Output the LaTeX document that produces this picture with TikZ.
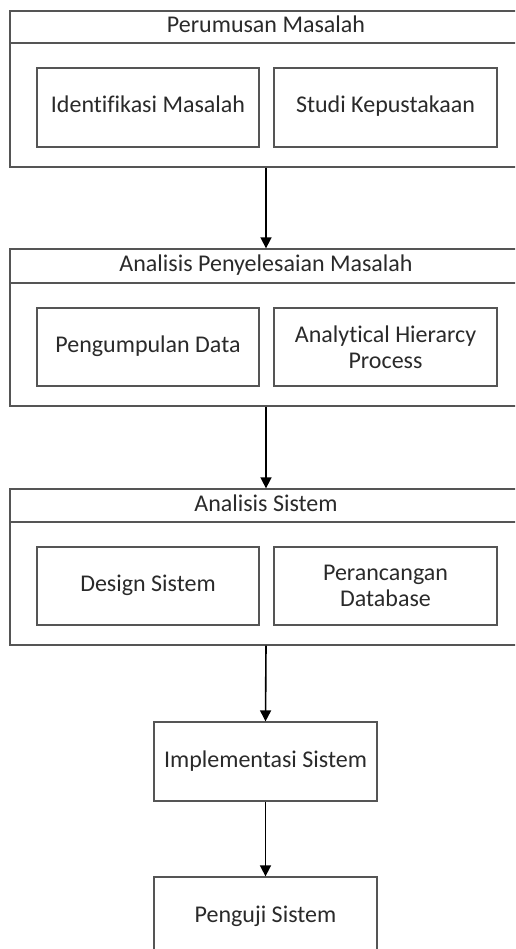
\documentclass[tikz,border=0pt]{standalone}
\usepackage{fontspec}
\setmainfont{Carlito}[Ligatures=NoCommon]
\usetikzlibrary{arrows.meta}
\definecolor{linec}{HTML}{555555}
\definecolor{textc}{HTML}{2A2A2A}
\tikzset{
  box/.style={draw=linec, line width=1.3pt, rectangle, inner sep=0pt, text=textc,
    font=\fontsize{24}{26}\selectfont, align=center},
  one/.style={text height=16pt, text depth=5pt},
  hdr/.style={text=textc, font=\fontsize{24}{26}\selectfont, inner sep=0pt, text height=16pt, text depth=5pt},
  arr/.style={draw=black, line width=1.6pt, -{Triangle[width=11pt,length=11pt]}},
  sep/.style={draw=linec, line width=1.3pt}
}
\begin{document}
\begin{tikzpicture}[x=1pt,y=-1pt]
\useasboundingbox (0,0) rectangle (515,949);
\clip (0,0) rectangle (515,949);
% group 1
\node[box, minimum width=512pt, minimum height=156pt] (g1) at (266,89) {};
\coordinate (h1) at (0,43);
\draw[sep] (g1.west |- h1) -- (g1.east |- h1);
\node[hdr] (t1) at (266,27) {Perumusan Masalah};
\node[box, one, minimum width=222pt, minimum height=79pt] (a1) at (148,107.5) {Identifikasi Masalah};
\node[box, one, minimum width=223pt, minimum height=79pt] (b1) at (385.5,107.5) {Studi Kepustakaan};
% group 2
\node[box, minimum width=512pt, minimum height=157pt] (g2) at (266,327.5) {};
\coordinate (h2) at (0,283);
\draw[sep] (g2.west |- h2) -- (g2.east |- h2);
\node[hdr] (t2) at (266,266) {Analisis Penyelesaian Masalah};
\node[box, one, minimum width=222pt, minimum height=78pt] (a2) at (148,347) {Pengumpulan Data};
\node[box, minimum width=223pt, minimum height=78pt] (b2) at (385.5,347) {Analytical Hierarcy\\Process};
% group 3
\node[box, minimum width=512pt, minimum height=156pt] (g3) at (266,567) {};
\coordinate (h3) at (0,522);
\draw[sep] (g3.west |- h3) -- (g3.east |- h3);
\node[hdr] (t3) at (266,505.5) {Analisis Sistem};
\node[box, one, minimum width=222pt, minimum height=78pt] (a3) at (148,586) {Design Sistem};
\node[box, minimum width=223pt, minimum height=78pt] (b3) at (385.5,586) {Perancangan\\Database};
% single steps
\node[box, one, minimum width=223pt, minimum height=79pt] (s4) at (265.5,761.5) {Implementasi Sistem};
\node[box, one, minimum width=223pt, minimum height=79pt] (s5) at (265.5,916.5) {Penguji Sistem};
% arrows
\draw[arr] (g1.south) -- (g2.north);
\draw[arr] (g2.south) -- (g3.north);
\draw[arr] (g3.south) -- (s4.north);
\draw[arr] (s4.south) -- (s5.north);
\end{tikzpicture}
\end{document}
